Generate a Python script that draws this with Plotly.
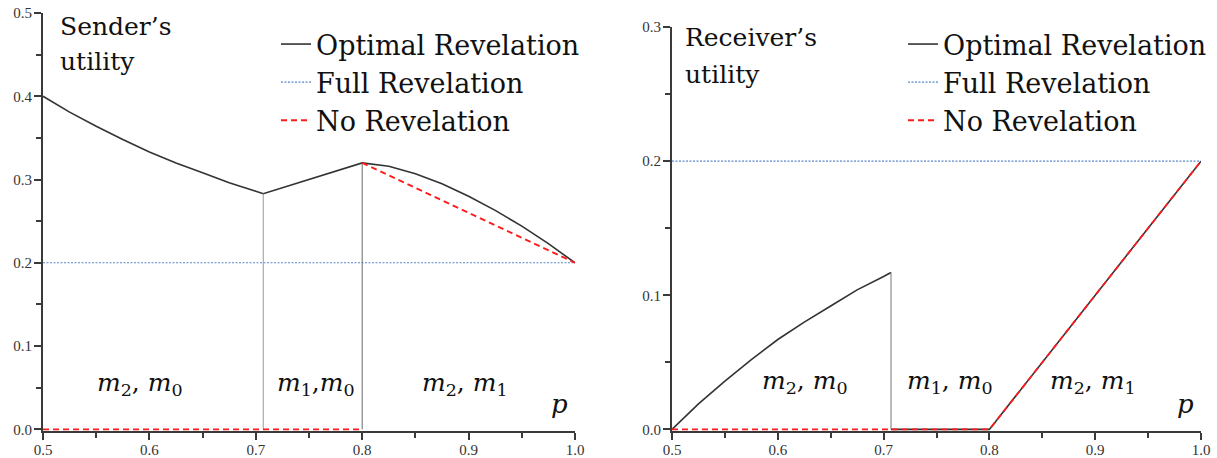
import plotly.graph_objects as go

# ---------------- data ----------------
p_sender_opt = [0.5, 0.525, 0.55, 0.575, 0.6, 0.625, 0.65, 0.675, 0.7, 0.707,
                0.8, 0.825, 0.85, 0.875, 0.9, 0.925, 0.95, 0.975, 1.0]
u_sender_opt = [0.400, 0.381, 0.364, 0.348, 0.333, 0.320, 0.308, 0.296, 0.286, 0.283,
                0.320, 0.316, 0.307, 0.295, 0.280, 0.263, 0.244, 0.223, 0.200]
p_sender_full = [0.5, 1.0]
u_sender_full = [0.2, 0.2]
p_sender_none = [0.5, 0.8, None, 0.8, 1.0]
u_sender_none = [0.0, 0.0, None, 0.320, 0.200]
p_sender_bounds = [0.707, 0.8]
u_sender_bounds = [0.283, 0.320]

p_recv_opt = [0.5, 0.525, 0.55, 0.575, 0.6, 0.625, 0.65, 0.675, 0.7, 0.707, None, 0.707, 0.8, 1.0]
u_recv_opt = [0.0, 0.019, 0.036, 0.052, 0.067, 0.080, 0.092, 0.104, 0.114, 0.117, None, 0.0, 0.0, 0.2]
p_recv_full = [0.5, 1.0]
u_recv_full = [0.2, 0.2]
p_recv_none = [0.5, 0.8, 1.0]
u_recv_none = [0.0, 0.0, 0.2]
p_recv_bounds = [0.707]
u_recv_bounds = [0.117]

x_ticks = [0.5, 0.6, 0.7, 0.8, 0.9, 1.0]
x_ticklabels = ["0.5", "0.6", "0.7", "0.8", "0.9", "1.0"]
y_ticks_sender = [0.0, 0.1, 0.2, 0.3, 0.4, 0.5]
y_ticks_recv = [0.0, 0.1, 0.2, 0.3]

region_labels = ["<i>m</i><sub>2</sub>, <i>m</i><sub>0</sub>",
                 "<i>m</i><sub>1</sub>,<i>m</i><sub>0</sub>",
                 "<i>m</i><sub>2</sub>, <i>m</i><sub>1</sub>"]
region_labels_recv = ["<i>m</i><sub>2</sub>, <i>m</i><sub>0</sub>",
                      "<i>m</i><sub>1</sub>, <i>m</i><sub>0</sub>",
                      "<i>m</i><sub>2</sub>, <i>m</i><sub>1</sub>"]
region_x_sender = [0.591, 0.757, 0.897]
region_x_recv = [0.626, 0.763, 0.898]

SERIF = "DejaVu Serif"
TICKSERIF = "Liberation Serif"
W, H = 1217, 458
BLACK = "#333333"
AX = "#3a3a3a"
BLUE = "#5a86cc"
RED = "#ff1a1a"
TXT = "#111111"

fig = go.Figure()

# -------- left: sender --------
fig.add_trace(go.Scatter(x=p_sender_opt, y=u_sender_opt, mode="lines", name="Optimal Revelation",
                         line=dict(color=BLACK, width=1.6), legend="legend", legendgroup="a",
                         xaxis="x", yaxis="y"))
fig.add_trace(go.Scatter(x=p_sender_full, y=u_sender_full, mode="lines", name="Full Revelation",
                         line=dict(color=BLUE, width=1.1, dash="2px,1.5px"), legend="legend", legendgroup="b",
                         xaxis="x", yaxis="y"))
for b, h, c in zip(p_sender_bounds, u_sender_bounds, ["#9a9a9a", "#6a6a6a"]):
    fig.add_trace(go.Scatter(x=[b, b], y=[0, h], mode="lines", showlegend=False,
                             line=dict(color=c, width=1), xaxis="x", yaxis="y"))
fig.add_trace(go.Scatter(x=p_sender_none, y=u_sender_none, mode="lines", name="No Revelation",
                         line=dict(color=RED, width=1.8, dash="6px,4px"), legend="legend", legendgroup="c",
                         xaxis="x", yaxis="y"))

# -------- right: receiver --------
fig.add_trace(go.Scatter(x=p_recv_opt, y=u_recv_opt, mode="lines", name="Optimal Revelation",
                         line=dict(color=BLACK, width=1.6), legend="legend2", legendgroup="a2",
                         xaxis="x2", yaxis="y2"))
fig.add_trace(go.Scatter(x=p_recv_full, y=u_recv_full, mode="lines", name="Full Revelation",
                         line=dict(color=BLUE, width=1.1, dash="2px,1.5px"), legend="legend2", legendgroup="b2",
                         xaxis="x2", yaxis="y2"))
for b, h in zip(p_recv_bounds, u_recv_bounds):
    fig.add_trace(go.Scatter(x=[b, b], y=[0, h], mode="lines", showlegend=False,
                             line=dict(color="#777777", width=1), xaxis="x2", yaxis="y2"))
fig.add_trace(go.Scatter(x=p_recv_none, y=u_recv_none, mode="lines", name="No Revelation",
                         line=dict(color=RED, width=1.8, dash="6px,4px"), legend="legend2", legendgroup="c2",
                         xaxis="x2", yaxis="y2"))

x0L, x1L = 43 / W, 575 / W
x0R, x1R = 672 / W, 1201 / W
yb = 1 - 431 / H
ytL = 1 - 13 / H
ytR = 1 - 27 / H
rngL = [-0.002, 0.5]
rngR = [-0.0012, 0.3]

tickfont = dict(family=TICKSERIF, size=15, color="#333333")

def xax(domain, anchor):
    return dict(range=[0.5, 1.0], tickvals=x_ticks, ticktext=x_ticklabels, showgrid=False, zeroline=False,
                showline=True, linecolor=AX, linewidth=2, ticks="outside",
                ticklen=7, tickwidth=1.5, tickcolor=AX, tickfont=tickfont, anchor=anchor, automargin=False,
                layer="below traces", ticklabelstandoff=-3, domain=domain,
                minor=dict(dtick=0.05, tick0=0.5, ticklen=5, tickwidth=1.5, tickcolor=AX,
                           ticks="outside", showgrid=False))

def yax(domain, anchor, rng, tv):
    return dict(range=rng, tickvals=tv, ticktext=[f"{v:.1f}" for v in tv], showgrid=False, zeroline=False,
                showline=True, linecolor=AX, linewidth=2, ticks="outside",
                ticklen=7, tickwidth=1.5, tickcolor=AX, tickfont=tickfont, anchor=anchor, automargin=False,
                layer="below traces", domain=domain, ticklabelstandoff=-1,
                minor=dict(dtick=0.05, tick0=0, ticklen=5, tickwidth=1.5, tickcolor=AX,
                           ticks="outside", showgrid=False))

legend_common = dict(font=dict(family=SERIF, size=27, color=TXT), bgcolor="rgba(0,0,0,0)",
                     xanchor="left", yanchor="top", tracegroupgap=0, itemwidth=30,
                     borderwidth=0)

annotations = []
for txt, x, y in [("Sender’s", 58, 27), ("utility", 58, 62), ("Receiver’s", 683, 38), ("utility", 683, 74)]:
    annotations.append(dict(text=txt, xref="paper", yref="paper", x=x / W, y=1 - y / H,
                            xanchor="left", yanchor="middle", showarrow=False,
                            font=dict(family=SERIF, size=25, color=TXT)))
for t, xv in zip(region_labels, region_x_sender):
    annotations.append(dict(text=t, x=xv, y=0.055, xref="x", yref="y", showarrow=False,
                            font=dict(family=SERIF, size=25, color=TXT)))
for t, xv in zip(region_labels_recv, region_x_recv):
    annotations.append(dict(text=t, x=xv, y=0.035, xref="x2", yref="y2", showarrow=False,
                            font=dict(family=SERIF, size=25, color=TXT)))
annotations.append(dict(text="<i>p</i>", x=0.985, y=0.031, xref="x", yref="y", showarrow=False,
                        font=dict(family=SERIF, size=26, color=TXT)))
annotations.append(dict(text="<i>p</i>", x=0.985, y=0.019, xref="x2", yref="y2", showarrow=False,
                        font=dict(family=SERIF, size=26, color=TXT)))

fig.update_layout(
    width=W, height=H, margin=dict(l=0, r=0, t=0, b=0, autoexpand=False),
    paper_bgcolor="white", plot_bgcolor="white",
    xaxis=xax([x0L, x1L], "y"),
    yaxis=yax([yb, ytL], "x", rngL, y_ticks_sender),
    xaxis2=xax([x0R, x1R], "y2"),
    yaxis2=yax([yb, ytR], "x2", rngR, y_ticks_recv),
    legend=dict(x=276 / W, y=1 - 20 / H, **legend_common),
    legend2=dict(x=903 / W, y=1 - 20 / H, **legend_common),
    annotations=annotations,
    showlegend=True,
)

fig.write_html("out.html", config={"displayModeBar": False},
               post_script="document.body.style.margin='0px';")
